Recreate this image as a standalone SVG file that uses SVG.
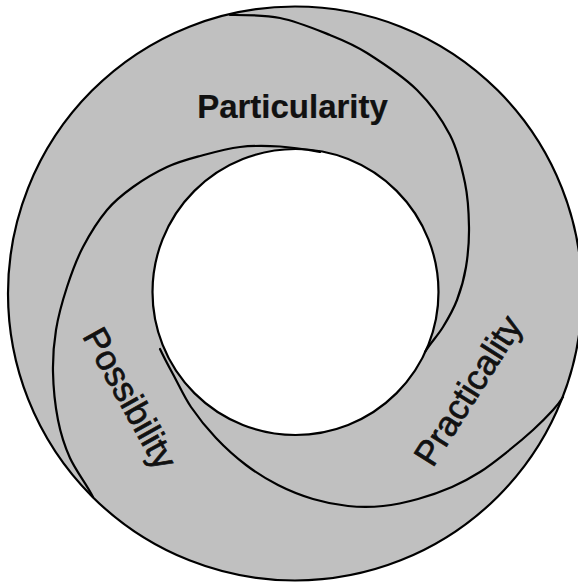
<svg xmlns="http://www.w3.org/2000/svg" width="578" height="583" viewBox="0 0 578 583">
<style>
.ln{fill:none;stroke:#000;stroke-width:2.2;stroke-linecap:round;stroke-linejoin:round}
.lbl{font-family:"Liberation Sans",Arial,sans-serif;font-size:35px;fill:#111;stroke:#111;stroke-width:0.7;text-anchor:middle}
.b{font-weight:bold;font-size:33px;stroke-width:0.2}
</style>
<rect x="0" y="0" width="578" height="583" fill="#fff"/>
<g id="ring">
<circle cx="295" cy="293.5" r="287" fill="#c0c0c0" stroke="#000" stroke-width="2.2"/>
<circle cx="295.5" cy="292" r="143" fill="#fff" stroke="#000" stroke-width="2.2"/>
</g>
<g id="connectors">
<path class="ln" d="M230,15 C246.7,15 263.3,14.7 280,18 C296.7,21.3 315.5,29.2 330,35 C344.5,40.8 352.5,43.8 367,53 C381.5,62.2 403.2,76.3 417,90 C430.8,103.7 442,119.5 450,135 C458,150.5 461.8,167.7 465,183 C468.2,198.3 468.8,213 469,227 C469.2,241 468,254.8 466,267 C464,279.2 460.8,290 457,300 C453.2,310 448.3,318.3 443,327 C437.7,335.7 430.2,343.1 425,352"/>
<path class="ln" d="M320,152 C306.9,149.7 293.3,147.3 280,146.5 C266.7,145.7 253.3,145.4 240,147 C226.7,148.6 212.2,152.7 200,156 C187.8,159.3 178.2,161.8 167,167 C155.8,172.2 143,179.8 133,187 C123,194.2 115.3,200 107,210 C98.7,220 89.7,234.2 83,247 C76.3,259.8 71.5,273.2 67,287 C62.5,300.8 58.3,315.8 56,330 C53.7,344.2 52.7,357 53,372 C53.3,387 55.2,405.7 58,420 C60.8,434.3 64.2,445.2 70,458 C75.8,470.8 86.3,483.7 93,497"/>
<path class="ln" d="M160,349 C164.5,358.7 169.8,368.3 175,378 C180.2,387.7 184.2,397 191,407 C197.8,417 206.8,428.3 216,438 C225.2,447.7 235.7,457.2 246,465 C256.3,472.8 266.8,479.3 278,485 C289.2,490.7 301.3,495.5 313,499 C324.7,502.5 336.3,504.8 348,506 C359.7,507.2 371.3,507.2 383,506 C394.7,504.8 406.5,502.2 418,499 C429.5,495.8 441.7,491.5 452,487 C462.3,482.5 470.8,477.8 480,472 C489.2,466.2 498.2,459 507,452 C515.8,445 525.3,437 533,430 C540.7,423 548,415.5 553,410 C558,404.5 560.1,401.5 563,397"/>
</g>
<g id="particularity">
<text class="lbl b" x="292.5" y="118">Particularity</text>
</g>
<g id="possibility">
<text class="lbl" transform="translate(119.5,404) rotate(61)">Possibility</text>
</g>
<g id="practicality">
<text class="lbl" transform="translate(478,397) rotate(-57.6)">Practicality</text>
</g>
</svg>
